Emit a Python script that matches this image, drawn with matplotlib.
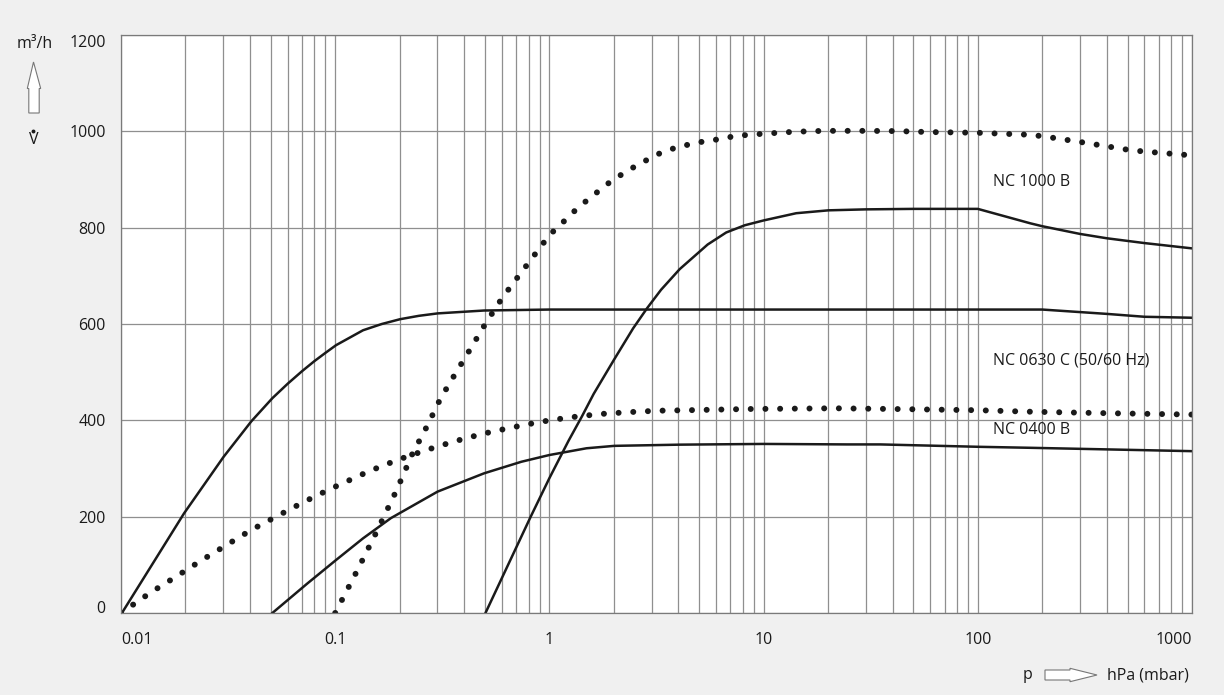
import matplotlib.pyplot as plt
from matplotlib.patches import Polygon
from matplotlib.lines import Line2D
from matplotlib.ticker import FixedLocator, NullFormatter

plt.rcParams['font.family'] = ['Open Sans', 'DejaVu Sans']

# pressure in hPa, pumping speed in m3/h
curve_a_p = [0.0101, 0.0197, 0.0301, 0.0406, 0.0509, 0.06, 0.07, 0.08, 0.09, 0.1009,
             0.1349, 0.165, 0.201, 0.246, 0.3006, 0.4955, 1, 10, 100, 200, 400, 600, 1000]
curve_a_v = [0, 207, 324, 398, 446, 476, 502, 523, 540, 556,
             587, 600, 610, 617, 622, 628, 630, 630, 630, 630, 621, 615, 613]

curve_b_p = [0.01, 0.0137, 0.018, 0.0235, 0.0308, 0.0404, 0.0535, 0.071, 0.0943,
             0.145, 0.196, 0.265, 0.358, 0.488, 0.665, 0.91, 1.24, 1.71, 2.35,
             3.18, 4.4, 8.4, 21.6, 41, 100, 172, 383, 1000]
curve_b_v = [0, 42, 75, 108, 140, 172, 201, 230, 257,
             295, 318, 338, 356, 372, 385, 397, 406, 413, 417,
             420, 421, 423.5, 425, 423.5, 421, 418, 415, 412]

curve_c_p = [0.0509, 0.074, 0.1009, 0.1349, 0.182, 0.3006, 0.4955, 0.74, 1.0, 1.49,
             2.01, 4.06, 10, 24.5, 35, 102, 175, 1000]
curve_c_v = [0, 61, 110, 155, 197, 252, 290, 314, 328, 342,
             347, 349.5, 351, 350, 350, 345, 343, 336]

curve_d_p = [0.1, 0.127, 0.157, 0.193, 0.229, 0.27, 0.31, 0.365, 0.43, 0.505,
             0.6, 0.66, 0.96, 1.07, 1.21, 1.34, 1.53, 1.73, 1.96, 2.24, 2.55,
             2.95, 3.4, 3.9, 4.6, 5.4, 6.3, 7.3, 8.6, 10, 13.7, 19, 30, 42,
             58, 100, 172, 200, 300, 514, 603, 1000]
curve_d_v = [0, 89, 171, 254, 330, 390, 445, 498, 550, 602,
             653, 678, 774, 798, 819, 839, 860, 879, 898, 914, 929,
             944, 958, 966, 974, 980, 984, 990, 993, 995, 999, 1001, 1001, 1000.5,
             998.6, 997, 993, 990, 978, 961, 958, 950]

curve_e_p = [0.503, 0.818, 1.0, 1.16, 1.23, 1.418, 1.61, 2.01, 2.46, 2.86, 3.32, 4.06,
             5.48, 6.69, 8.17, 10, 14.2, 20.1, 30, 50, 100, 176, 200, 300, 400, 600, 1000]
curve_e_v = [0, 200, 280, 336, 358, 408, 455, 527, 591, 633, 671, 714,
             765, 790, 805, 815, 830, 836, 838, 839, 839, 809, 803, 787, 778, 768, 757]

x_ticks = [0.01, 0.1, 1, 10, 100, 1000]
x_tick_labels = ['0.01', '0.1', '1', '10', '100', '1000']
y_ticks = [0, 200, 400, 600, 800, 1000, 1200]

labels = ['NC 1000 B', 'NC 0630 C (50/60 Hz)', 'NC 0400 B']
label_v = [895, 525, 380]

W, H = 1224, 695
fig = plt.figure(figsize=(W / 100, H / 100), dpi=100, facecolor='#f0f0f0')
ax = fig.add_axes([121 / W, 1 - 613 / H, 1071 / W, 578 / H])
ax.set_facecolor('white')
ax.set_xscale('log')
ax.set_xlim(0.01, 1000)
ax.set_ylim(0, 1200)

# grid: every 1..9 of each decade, every 200 m3/h
minor = [m * 10.0 ** e for e in range(-2, 3) for m in range(2, 10)]
ax.xaxis.set_minor_locator(FixedLocator(minor))
ax.xaxis.set_minor_formatter(NullFormatter())
ax.set_xticks(x_ticks)
ax.set_xticklabels(x_tick_labels)
ax.set_yticks(y_ticks)
ax.grid(True, which='both', axis='x', color='#8f8f8f', lw=0.9)
ax.grid(True, which='major', axis='y', color='#8f8f8f', lw=0.9)
ax.set_axisbelow(True)
ax.tick_params(which='both', length=0, labelsize=11.5, colors='#1a1a1a')
ax.tick_params(axis='x', pad=14)
ax.tick_params(axis='y', pad=11)
for s in ax.spines.values():
    s.set_color('#7a7a7a')
    s.set_linewidth(0.9)

xl = ax.get_xticklabels()
xl[0].set_ha('left')
xl[-1].set_ha('right')
yl = ax.get_yticklabels()
yl[0].set_va('baseline')
yl[-1].set_va('top')

solid = dict(color='#1a1a1a', lw=1.8, solid_joinstyle='round')
dotted = dict(color='#1a1a1a', lw=4.3, linestyle=(0, (0.01, 2.45)), dash_capstyle='round')
ax.plot(curve_a_p, curve_a_v, **solid)
ax.plot(curve_c_p, curve_c_v, **solid)
ax.plot(curve_e_p, curve_e_v, **solid)
ax.plot(curve_b_p, curve_b_v, **dotted)
ax.plot(curve_d_p, curve_d_v, **dotted)

for txt, v in zip(labels, label_v):
    ax.text(118, v, txt, fontsize=11.5, va='center', ha='left', color='#1a1a1a')

# axis captions with outline arrows (figure pixels from top-left)
def fpt(x, y):
    return (x / W, 1 - y / H)

fig.text(*fpt(17, 44), 'm³/h', fontsize=11.5, va='center', ha='left', color='#1a1a1a')
fig.text(*fpt(33.5, 140), 'V', fontsize=11.5, va='center', ha='center', color='#1a1a1a')
dx, dy = fpt(33.3, 130.5)
fig.add_artist(Line2D([dx], [dy], marker='o', markersize=1.8, color='#1a1a1a',
                      transform=fig.transFigure))
up = [(33.5, 62), (40.7, 88.5), (39.2, 88.5), (39.2, 113), (28.8, 113), (28.8, 88.5), (27.3, 88.5)]
fig.patches.append(Polygon([fpt(*p) for p in up], closed=True, transform=fig.transFigure,
                           facecolor='white', edgecolor='#777777', lw=0.8))

fig.text(*fpt(1023, 679), 'p', fontsize=11.5, va='baseline', ha='left', color='#1a1a1a')
fig.text(*fpt(1107, 679), 'hPa (mbar)', fontsize=11.5, va='baseline', ha='left', color='#1a1a1a')
right = [(1097, 675), (1070, 681.7), (1070, 680), (1045, 680), (1045, 670), (1070, 670), (1070, 668.3)]
fig.patches.append(Polygon([fpt(*p) for p in right], closed=True, transform=fig.transFigure,
                           facecolor='white', edgecolor='#777777', lw=0.8))

fig.savefig('out.png', dpi=100, facecolor=fig.get_facecolor())
